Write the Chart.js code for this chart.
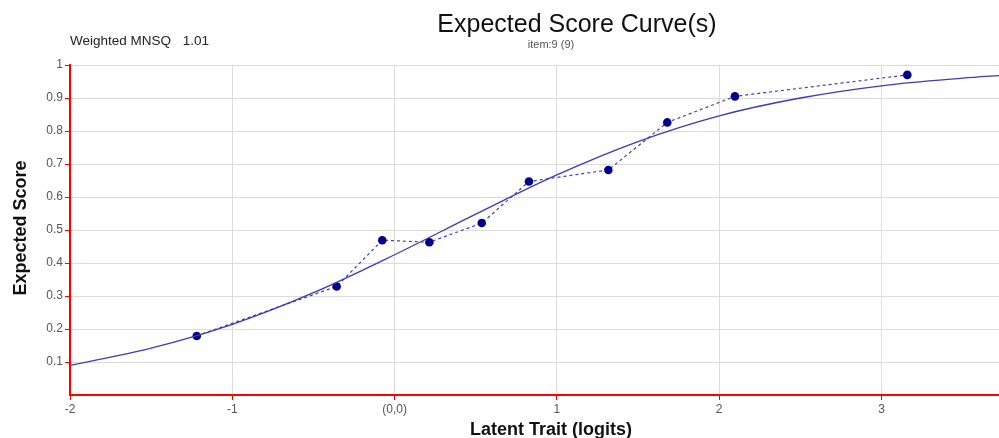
<!DOCTYPE html>
<html>
<head>
<meta charset="utf-8">
<script src="https://cdn.jsdelivr.net/npm/chart.js@4/dist/chart.umd.min.js"></script>
<style>
  html, body { margin: 0; padding: 0; background: #fff; overflow: hidden; }
  canvas { display: block; }
</style>
</head>
<body>
<canvas id="chart" width="999" height="438"></canvas>
<script>
// model curve
const curveX = [-2, -1.5, -1, -0.5, 0, 0.5, 1, 1.5, 2, 2.5, 3, 3.5, 3.75]
const curveY = [0.09, 0.142, 0.214, 0.31, 0.425, 0.548, 0.667, 0.768, 0.846, 0.9, 0.937, 0.96, 0.969]

// observed points (dashed line)
const obsX = [-1.219, -0.357, -0.076, 0.214, 0.537, 0.828, 1.317, 1.68, 2.097, 3.159]
const obsY = [0.179, 0.329, 0.469, 0.463, 0.521, 0.647, 0.682, 0.826, 0.905, 0.97]

const xTicks = [-2, -1, 0, 1, 2, 3]
const xTickLabels = ['-2', '-1', '(0,0)', '1', '2', '3']
const yTicks = [0, 0.1, 0.2, 0.3, 0.4, 0.5, 0.6, 0.7, 0.8, 0.9, 1]
const yTickLabels = ['', '0.1', '0.2', '0.3', '0.4', '0.5', '0.6', '0.7', '0.8', '0.9', '1']

const sans = '"Liberation Sans", Arial, sans-serif'

const texts = {
  id: 'texts',
  afterDraw(chart) {
    const ctx = chart.ctx
    ctx.save()
    ctx.fillStyle = '#111'
    ctx.textBaseline = 'alphabetic'

    ctx.font = '25px ' + sans
    ctx.textAlign = 'center'
    ctx.fillText('Expected Score Curve(s)', 577, 32)

    ctx.fillStyle = '#555'
    ctx.font = '11px ' + sans
    ctx.fillText('item:9 (9)', 551, 48)

    ctx.fillStyle = '#222'
    ctx.font = '13.5px ' + sans
    ctx.textAlign = 'left'
    ctx.fillText('Weighted MNSQ', 70, 45)
    ctx.textAlign = 'right'
    ctx.fillText('1.01', 209, 45)

    ctx.fillStyle = '#111'
    ctx.font = 'bold 18px ' + sans
    ctx.textAlign = 'center'
    ctx.fillText('Latent Trait (logits)', 551, 435)

    ctx.translate(26, 228)
    ctx.rotate(-Math.PI / 2)
    ctx.fillText('Expected Score', 0, 0)
    ctx.restore()
  }
}

new Chart(document.getElementById('chart'), {
  type: 'line',
  data: {
    datasets: [
      {
        data: curveX.map((x, i) => ({ x, y: curveY[i] })),
        borderColor: '#3c3cb4',
        borderWidth: 1.3,
        pointRadius: 0,
        cubicInterpolationMode: 'monotone'
      },
      {
        data: obsX.map((x, i) => ({ x, y: obsY[i] })),
        borderColor: '#4040bb',
        borderWidth: 1.2,
        borderDash: [3, 3],
        pointRadius: 4.3,
        pointBackgroundColor: '#00008e',
        pointBorderWidth: 0
      }
    ]
  },
  plugins: [texts],
  options: {
    responsive: false,
    animation: false,
    layout: { autoPadding: false, padding: { top: 65, right: 0, left: 0, bottom: 0 } },
    plugins: { legend: { display: false }, tooltip: { enabled: false }, title: { display: false } },
    scales: {
      x: {
        type: 'linear',
        min: -2,
        max: 3.724,
        afterBuildTicks: (s) => { s.ticks = xTicks.map(v => ({ value: v })) },
        afterFit: (s) => { s.height = 43; s.paddingRight = 0; s.paddingLeft = 0 },
        ticks: {
          autoSkip: false,
          maxRotation: 0,
          padding: 2,
          color: '#555',
          font: { size: 12, family: sans },
          callback: (v) => xTickLabels[xTicks.indexOf(v)]
        },
        grid: { color: '#dcdcdc', tickColor: 'red', tickLength: 5 },
        border: { color: 'red', width: 2 }
      },
      y: {
        min: 0,
        max: 1,
        afterBuildTicks: (s) => { s.ticks = yTicks.map(v => ({ value: v })) },
        afterFit: (s) => { s.width = 70 },
        ticks: {
          padding: 2,
          color: '#555',
          font: { size: 12, family: sans },
          callback: (v) => yTickLabels[yTicks.indexOf(v)]
        },
        grid: {
          color: '#dcdcdc',
          tickColor: (c) => (c.tick && c.tick.value === 0 ? 'rgba(0,0,0,0)' : 'red'),
          tickLength: 5
        },
        border: { color: 'red', width: 2 }
      }
    }
  }
})
</script>
</body>
</html>
